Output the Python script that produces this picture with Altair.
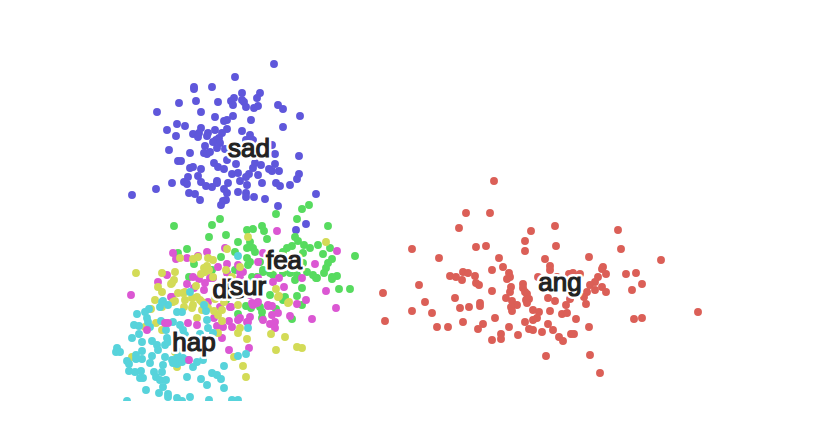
import altair as alt
import pandas as pd

sad = [(274,64),(235,77),(194,87),(194,89),(212,87),(242,93),(260,93),(257,98),(234,98),(231,101),(242,100),(244,102),(233,105),(246,107),(254,108),(258,106),(179,103),(196,101),(218,102),(278,105),(283,109),(157,112),(201,112),(300,116),(215,117),(233,116),(224,121),(227,120),(251,120),(283,127),(177,124),(185,126),(167,130),(176,136),(201,128),(227,129),(215,130),(242,131),(193,134),(198,137),(199,133),(208,133),(207,136),(222,133),(250,135),(246,140),(253,140),(219,138),(216,140),(213,142),(220,143),(205,146),(169,150),(190,153),(204,153),(207,154),(210,152),(217,148),(225,149),(272,145),(275,154),(299,156),(178,161),(181,161),(214,163),(227,160),(236,164),(255,163),(261,165),(275,164),(190,168),(193,167),(201,169),(218,167),(224,169),(253,168),(269,169),(272,171),(279,171),(299,174),(198,176),(188,177),(232,174),(238,173),(249,174),(246,177),(258,175),(297,179),(172,183),(184,182),(187,184),(201,182),(206,186),(212,187),(217,181),(217,183),(228,183),(240,181),(247,185),(262,183),(276,183),(280,186),(290,185),(156,189),(224,189),(189,193),(195,194),(227,193),(238,192),(246,193),(246,197),(254,197),(265,199),(316,194),(132,195),(200,200),(226,200),(223,201),(221,205),(278,206),(306,224),(296,230)]

ang = [(494,181),(466,213),(490,213),(459,228),(531,231),(555,226),(618,230),(525,241),(525,251),(556,246),(621,249),(412,249),(476,247),(486,246),(439,258),(499,258),(545,259),(589,257),(661,260),(463,272),(468,273),(450,276),(456,277),(462,280),(475,276),(476,283),(479,285),(492,270),(503,267),(509,273),(510,277),(507,279),(550,266),(550,270),(538,277),(557,277),(569,274),(573,273),(580,274),(603,267),(602,269),(606,274),(598,277),(595,282),(590,285),(626,274),(636,273),(642,284),(632,290),(383,293),(419,285),(511,287),(510,292),(523,284),(523,288),(525,292),(527,294),(492,291),(595,290),(602,287),(606,292),(587,292),(584,297),(455,298),(506,298),(512,301),(517,305),(526,300),(529,299),(527,303),(548,298),(555,301),(570,299),(566,305),(586,304),(425,302),(480,303),(480,306),(469,307),(460,308),(511,307),(512,311),(533,310),(539,312),(550,311),(562,314),(567,313),(412,311),(432,313),(385,321),(495,318),(537,318),(533,320),(576,319),(634,319),(642,318),(698,312),(463,322),(437,327),(448,327),(483,324),(478,329),(509,327),(525,322),(548,324),(529,329),(533,330),(542,332),(553,330),(589,327),(501,334),(501,339),(492,340),(518,335),(559,337),(563,341),(571,334),(574,334),(546,356),(590,355),(600,373)]

fea = [(276,214),(302,209),(309,205),(297,219),(328,226),(262,226),(264,231),(247,230),(253,229),(267,239),(295,237),(298,241),(304,245),(310,248),(292,246),(287,248),(283,252),(318,245),(330,248),(323,254),(355,256),(332,259),(303,253),(250,242),(253,248),(255,252),(247,258),(260,262),(248,265),(252,277),(263,270),(303,263),(307,272),(328,263),(326,268),(324,273),(337,276),(332,277),(313,275),(283,273),(290,273),(297,275),(317,278),(273,275),(270,273),(174,226),(212,225),(220,219),(209,237),(226,235),(187,249),(178,253),(221,257),(194,264),(212,270),(189,277),(238,242),(235,252),(250,262),(263,272),(247,248),(257,277),(302,288),(339,289),(350,289),(297,296),(283,300),(285,297),(302,305),(292,319),(276,309),(262,318),(262,312),(260,307),(246,306),(251,308),(270,295),(295,280),(316,278),(332,279),(238,314),(226,300),(240,285),(235,270)]

hap = [(137,314),(149,309),(145,312),(147,318),(148,322),(161,321),(134,325),(139,326),(150,327),(139,334),(132,338),(166,330),(168,305),(163,301),(160,307),(177,312),(182,312),(173,322),(180,325),(183,330),(185,335),(167,338),(165,345),(142,342),(152,341),(157,345),(158,350),(142,351),(117,348),(116,352),(120,352),(136,355),(136,359),(142,359),(152,356),(127,361),(129,364),(150,363),(165,357),(163,365),(177,358),(177,364),(183,358),(188,360),(197,362),(203,360),(193,367),(224,366),(238,356),(246,354),(248,328),(208,328),(213,333),(200,334),(207,320),(206,311),(129,371),(135,372),(141,371),(140,378),(143,378),(154,372),(156,377),(162,372),(160,380),(166,380),(163,387),(146,390),(159,393),(168,394),(187,377),(201,379),(212,373),(217,375),(221,379),(207,385),(224,388),(190,397),(177,398),(182,401),(209,400),(232,400),(238,400),(127,401),(168,397),(172,360),(178,352),(168,342),(173,363),(182,362),(238,256),(190,292),(162,302),(204,305)]

sur = [(136,273),(162,273),(175,272),(174,280),(171,284),(162,292),(155,300),(180,258),(193,259),(198,257),(208,258),(213,260),(204,268),(205,272),(227,249),(175,301),(178,293),(185,292),(192,298),(197,297),(193,305),(202,302),(151,309),(162,307),(213,277),(226,270),(232,277),(238,295),(184,307),(238,305),(248,237),(326,242),(173,302),(156,323),(145,327),(162,330),(132,357),(177,367),(175,352),(197,318),(185,300),(192,308),(202,310),(205,305),(200,300),(214,311),(218,315),(222,321),(240,328),(238,333),(247,339),(234,357),(243,366),(246,377),(271,334),(285,337),(276,350),(297,347),(302,348),(288,303),(278,297),(218,333),(208,308),(222,310),(276,289),(279,296),(289,302),(240,267),(172,283),(158,287),(183,293),(207,266),(209,270),(201,274),(196,286),(215,299),(224,302)]

dis = [(131,295),(158,282),(167,275),(173,253),(176,259),(187,258),(198,256),(207,252),(218,267),(227,273),(187,284),(193,277),(199,279),(210,278),(213,278),(194,288),(171,297),(204,290),(240,272),(238,265),(227,264),(240,278),(208,302),(220,307),(230,307),(225,248),(277,231),(337,251),(315,264),(263,253),(258,262),(243,272),(279,278),(302,278),(258,278),(326,291),(336,308),(312,319),(306,300),(297,304),(290,316),(284,287),(273,282),(268,306),(272,306),(278,313),(272,315),(275,322),(270,324),(275,328),(263,320),(250,317),(247,322),(249,348),(257,303),(253,305),(240,318),(214,318),(231,307),(223,327),(229,321),(238,320),(232,327),(248,322),(252,303),(258,302),(268,305),(222,338),(229,350),(172,297),(215,290),(225,295),(205,283),(250,295),(217,326)]

dis_top = [(147,330),(165,323),(168,323),(188,323),(197,325),(189,360)]

label_names = ["dis", "fea", "sad", "hap", "ang", "sur"]
label_x = [229, 284, 249, 194, 560, 248]
label_y = [290, 261, 149, 343, 283, 287]

colors = {"ang": "#db5f57", "sur": "#d3db57", "fea": "#57db5f",
          "hap": "#57d3db", "sad": "#5f57db", "dis": "#db57d3"}

x_scale = alt.Scale(domain=[8, 822], nice=False, zero=False)
y_scale = alt.Scale(domain=[401, 8], nice=False, zero=False)


def frame(points, name):
    return pd.DataFrame([{"x": p[0], "y": p[1], "e": name} for p in points])


def layer(points, name):
    return alt.Chart(frame(points, name)).mark_circle(
        size=62, opacity=1, color=colors[name], clip=True
    ).encode(
        x=alt.X("x:Q", scale=x_scale, axis=None),
        y=alt.Y("y:Q", scale=y_scale, axis=None),
    )


layers = [layer(sad, "sad"), layer(ang, "ang"), layer(fea, "fea"),
          layer(dis, "dis"), layer(sur, "sur"), layer(hap, "hap"), layer(dis_top, "dis")]

for n, lx, ly in zip(label_names, label_x, label_y):
    d = pd.DataFrame({"x": [lx], "y": [ly], "t": [n]})
    base = alt.Chart(d).encode(
        x=alt.X("x:Q", scale=x_scale, axis=None),
        y=alt.Y("y:Q", scale=y_scale, axis=None),
        text="t:N",
    )
    common = dict(font="Liberation Sans", fontSize=26, align="center", baseline="middle")
    layers.append(base.mark_text(color="white", stroke="white", strokeWidth=6,
                                 strokeJoin="round", **common))
    layers.append(base.mark_text(color="#222222", stroke="#222222", strokeWidth=1.2, **common))

chart = alt.layer(*layers).properties(
    width=814, height=393, padding=0
).configure_view(stroke=None)

chart.save("out.html", embed_options={"renderer": "svg", "actions": False})
